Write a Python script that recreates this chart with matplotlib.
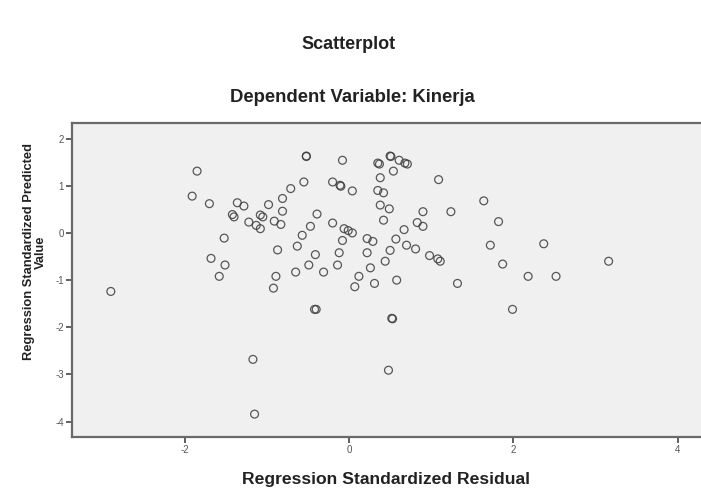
import matplotlib
matplotlib.use("Agg")
import matplotlib.pyplot as plt

plt.rcParams['font.family'] = ['Liberation Sans', 'DejaVu Sans']

title = "Scatterplot"
subtitle = "Dependent Variable: Kinerja"
x_label = "Regression Standardized Residual"
y_label = "Regression Standardized Predicted\nValue"
x_ticks = [-2, 0, 2, 4]
y_ticks = [2, 1, 0, -1, -2, -3, -4]

residual = [
    -2.90, -1.85, -1.91, -1.70, -1.36, -1.28, -1.42, -1.40, -1.22, -1.13,
    -1.08, -1.52, -1.68, -1.51, -1.58, -1.17, -1.15, -1.08, -1.05, -0.98,
    -0.81, -0.71, -0.55, -0.52, -0.52, -0.91, -0.83, -0.81, -0.39, -0.47,
    -0.57, -0.63, -0.87, -0.41, -0.49, -0.65, -0.31, -0.89, -0.92, -0.40,
    -0.42, -0.20, -0.10, -0.11, -0.08, 0.04, -0.20, -0.06, -0.01, 0.04,
    -0.08, -0.12, -0.14, 0.07, 0.12, 0.22, 0.29, 0.22, 0.26, 0.31,
    0.35, 0.37, 0.38, 0.35, 0.42, 0.38, 0.49, 0.42, 0.50, 0.51,
    0.61, 0.68, 0.71, 0.54, 1.09, 0.90, 1.24, 0.83, 0.90, 0.67,
    0.57, 0.70, 0.81, 0.50, 0.98, 1.08, 1.11, 0.44, 0.58, 0.52,
    0.53, 0.48, 1.64, 1.82, 1.72, 2.37, 3.16, 1.87, 2.18, 2.52,
    1.32, 1.99,
]
predicted = [
    -1.24, 1.31, 0.78, 0.62, 0.64, 0.57, 0.39, 0.34, 0.23, 0.16,
    0.09, -0.11, -0.54, -0.68, -0.92, -2.68, -3.84, 0.38, 0.34, 0.60,
    0.73, 0.94, 1.08, 1.63, 1.62, 0.25, 0.18, 0.46, 0.40, 0.14,
    -0.05, -0.28, -0.36, -0.46, -0.68, -0.83, -0.83, -0.92, -1.17, -1.62,
    -1.62, 1.08, 0.99, 1.01, 1.54, 0.89, 0.21, 0.09, 0.05, 0.00,
    -0.16, -0.42, -0.68, -1.14, -0.92, -0.12, -0.18, -0.42, -0.74, -1.07,
    1.48, 1.46, 1.17, 0.90, 0.85, 0.59, 0.51, 0.27, 1.63, 1.62,
    1.54, 1.48, 1.46, 1.31, 1.13, 0.45, 0.45, 0.22, 0.14, 0.07,
    -0.13, -0.26, -0.34, -0.37, -0.48, -0.55, -0.60, -0.60, -1.00, -1.81,
    -1.82, -2.91, 0.68, 0.24, -0.26, -0.23, -0.60, -0.66, -0.92, -0.92,
    -1.07, -1.62,
]

fig = plt.figure(figsize=(7.01, 4.88), dpi=100)
fig.patch.set_facecolor('white')
ax = fig.add_axes([0.103, 0.105, 0.9, 0.642])
ax.set_facecolor('#f0f0f0')

ax.scatter(residual, predicted, s=32, facecolors='none',
           edgecolors='#3c3c3c', linewidths=0.9, alpha=0.85, zorder=3)

ax.set_xlim(-3.37, 4.31)
ax.set_ylim(-4.32, 2.32)
ax.set_xticks(x_ticks)
ax.set_yticks(y_ticks)
ax.set_xticklabels([str(t) for t in x_ticks])
ax.set_yticklabels([str(t) for t in y_ticks])
ax.tick_params(axis='both', direction='out', length=4, width=1.2,
               color='#444444', labelsize=7, labelcolor='#555555', pad=2)

for side in ['left', 'bottom', 'top']:
    ax.spines[side].set_color('#6a6a6a')
    ax.spines[side].set_linewidth(1.6)
ax.spines['right'].set_visible(False)

ax.set_xlabel(x_label, fontsize=12.6, fontweight='bold', color='#222222')
ax.xaxis.set_label_coords(0.498, -0.112)
ax.set_ylabel(y_label, fontsize=9.3, fontweight='bold', color='#222222',
              linespacing=1.0)
ax.yaxis.set_label_coords(-0.040, 0.59)

fig.text(0.497, 0.908, title, ha='center', va='center', fontsize=13,
         fontweight='bold', color='#222222')
fig.text(0.503, 0.80, subtitle, ha='center', va='center', fontsize=13.3,
         fontweight='bold', color='#222222')

fig.savefig('out.png', dpi=100, facecolor='white')
